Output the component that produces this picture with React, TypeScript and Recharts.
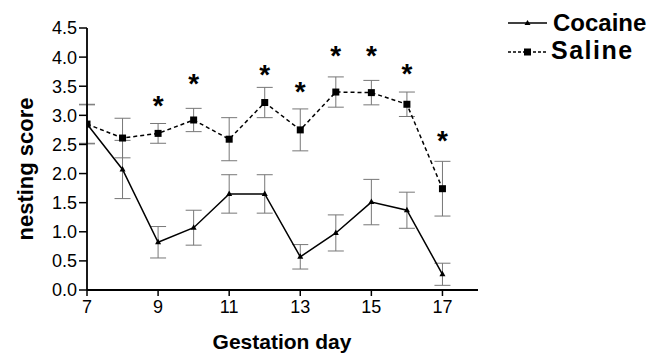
import React from 'react';
import { ComposedChart, Line, XAxis, YAxis, ErrorBar, Scatter } from 'recharts';

const days = [7, 8, 9, 10, 11, 12, 13, 14, 15, 16, 17];
const saline = [2.85, 2.61, 2.69, 2.92, 2.59, 3.22, 2.75, 3.40, 3.39, 3.19, 1.74];
const salineErr = [0.34, 0.34, 0.17, 0.2, 0.37, 0.26, 0.36, 0.26, 0.21, 0.21, 0.47];
const cocaine = [2.85, 2.07, 0.82, 1.07, 1.65, 1.65, 0.57, 0.98, 1.51, 1.37, 0.27];
const cocaineErr = [0.33, 0.5, 0.27, 0.3, 0.33, 0.33, 0.21, 0.31, 0.39, 0.31, 0.19];
const starDays = [9, 10, 12, 13, 14, 15, 16, 17];
const starHeights = [3.27, 3.64, 3.80, 3.50, 4.13, 4.13, 3.81, 2.66];
const xTicks = [7, 9, 11, 13, 15, 17];
const yTicks = [0, 0.5, 1, 1.5, 2, 2.5, 3, 3.5, 4, 4.5];
const seriesNames = ['Cocaine', 'Saline'];

const data = days.map((d, i) => ({
  day: d,
  saline: saline[i],
  salineErr: salineErr[i],
  cocaine: cocaine[i],
  cocaineErr: cocaineErr[i],
}));
const starData = starDays.map((d, i) => ({ day: d, y: starHeights[i] }));

const FONT = '"Liberation Sans", Arial, Helvetica, sans-serif';

const SquareDot = (props: any) => {
  const { cx, cy, key } = props;
  if (cx == null || cy == null) return null;
  return <rect key={key} x={cx - 3.5} y={cy - 3.5} width={7} height={7} fill="#000" />;
};
const TriDot = (props: any) => {
  const { cx, cy, key } = props;
  if (cx == null || cy == null) return null;
  return (
    <polygon key={key} points={`${cx},${cy - 3.5} ${cx - 3},${cy + 2} ${cx + 3},${cy + 2}`} fill="#000" />
  );
};
const StarShape = (props: any) => {
  const { cx, cy } = props;
  return (
    <text x={cx} y={cy + 15} textAnchor="middle" fontSize={28} fontWeight="bold" fontFamily={FONT} fill="#000">
      *
    </text>
  );
};

export default function App() {
  return (
    <div style={{ position: 'absolute', left: 0, top: 0, width: 652, height: 354, background: '#fff' }}>
      <ComposedChart width={652} height={354} data={data} margin={{ top: 28, right: 174, bottom: 34, left: 27 }}>
        <XAxis
          dataKey="day"
          type="number"
          domain={[7, 18]}
          ticks={xTicks}
          interval={0}
          allowDataOverflow
          tickSize={6}
          tickMargin={4}
          height={30}
          axisLine={{ stroke: '#000', strokeWidth: 1.8 }}
          tickLine={{ stroke: '#000', strokeWidth: 1.5 }}
          tick={{ fill: '#000', fontSize: 18, fontFamily: FONT }}
        />
        <YAxis
          type="number"
          domain={[0, 4.5]}
          ticks={yTicks}
          interval={0}
          width={60}
          tickSize={8}
          tickMargin={2}
          tickFormatter={(v: number) => v.toFixed(1)}
          axisLine={{ stroke: '#000', strokeWidth: 1.8 }}
          tickLine={{ stroke: '#000', strokeWidth: 1.5 }}
          tick={{ fill: '#000', fontSize: 18, fontFamily: FONT }}
        />
        <Line
          dataKey="saline"
          stroke="#000"
          strokeWidth={1.5}
          strokeDasharray="4 3"
          dot={SquareDot}
          activeDot={false}
          isAnimationActive={false}
        >
          <ErrorBar dataKey="salineErr" width={8} stroke="#777" strokeWidth={1} />
        </Line>
        <Line
          dataKey="cocaine"
          stroke="#000"
          strokeWidth={1.5}
          dot={TriDot}
          activeDot={false}
          isAnimationActive={false}
        >
          <ErrorBar dataKey="cocaineErr" width={8} stroke="#777" strokeWidth={1} />
        </Line>
        <Scatter data={starData} dataKey="y" shape={StarShape} isAnimationActive={false} />
      </ComposedChart>
      <svg width={652} height={354} style={{ position: 'absolute', left: 0, top: 0, pointerEvents: 'none' }}>
        <text
          x={0}
          y={0}
          transform="translate(33,169) rotate(-90)"
          textAnchor="middle"
          fontSize={22}
          fontWeight="bold"
          fontFamily={FONT}
          fill="#000"
        >
          nesting score
        </text>
        <text x={282} y={349} textAnchor="middle" fontSize={21} fontWeight="bold" fontFamily={FONT} fill="#000">
          Gestation day
        </text>
        <line x1={508} y1={23} x2={547} y2={23} stroke="#000" strokeWidth={1.5} />
        <polygon points="527.5,20 524.5,25 530.5,25" fill="#000" />
        <text x={553} y={31} fontSize={24} fontWeight="bold" fontFamily={FONT} fill="#000">{seriesNames[0]}</text>
        <line x1={508} y1={52} x2={547} y2={52} stroke="#000" strokeWidth={1.5} strokeDasharray="3 2" />
        <rect x={524} y={48.5} width={7} height={7} fill="#000" />
        <text x={551} y={59} fontSize={25} fontWeight="bold" fontFamily={FONT} fill="#000" letterSpacing={1.5}>{seriesNames[1]}</text>
      </svg>
    </div>
  );
}
